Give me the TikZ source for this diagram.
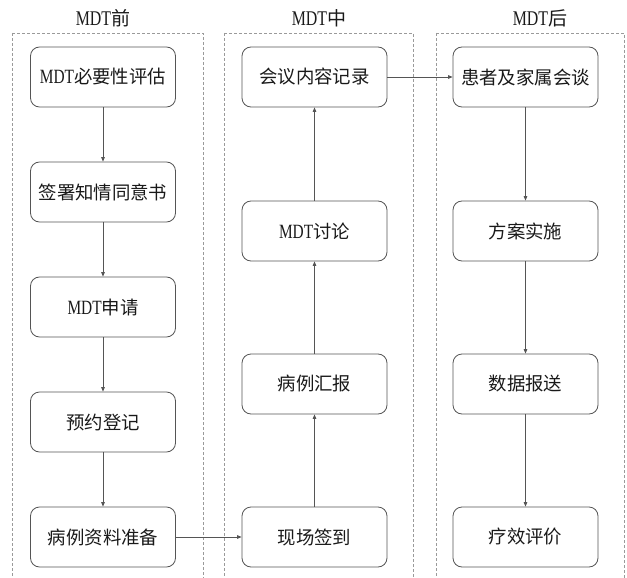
\documentclass[tikz,border=0pt]{standalone}
\usepackage{fontspec}
\setmainfont{Liberation Serif}
\newfontfamily\cjk{Noto Sans CJK SC}
\newfontfamily\lat[FakeStretch=0.76,Scale=1.1]{Liberation Serif}
\newcommand{\mdtx}{{\lat MDT}}
\usetikzlibrary{arrows.meta}
\definecolor{linec}{HTML}{555555}
\definecolor{dashc}{HTML}{9A9A9A}
\begin{document}
\begin{tikzpicture}[x=1pt,y=-1pt,
  box/.style={draw=linec, line width=0.8pt, rounded corners=9pt, minimum width=145pt, minimum height=60pt, inner sep=0pt, font=\fontsize{18.4}{22}\selectfont\cjk, text=black!90},
  col/.style={draw=dashc, line width=0.8pt, dash pattern=on 3pt off 2pt},
  title/.style={font=\fontsize{19}{22}\selectfont\cjk, text=black!90, inner sep=0pt},
  conn/.style={draw=linec, line width=0.7pt, -{Triangle[length=4.5pt,width=3.6pt]}}]
\useasboundingbox (0,0) rectangle (627,578);
% columns
\draw[col] (12,33) -- (12,580) (12,33) -- (203,33) -- (203,580);
\draw[col] (224,33) -- (224,580) (224,33) -- (413,33) -- (413,580);
\draw[col] (436,33) -- (436,580) (436,33) -- (624,33) -- (624,580);
% titles
\node[title] (t1) at (103,18) {\mdtx 前};
\node[title] (t2) at (319,18) {\mdtx 中};
\node[title] (t3) at (540,18) {\mdtx 后};
% column 1
\node[box] (a1) at (103,77) {\mdtx 必要性评估};
\node[box] (a2) at (103,192) {签署知情同意书};
\node[box] (a3) at (103,307) {\mdtx 申请};
\node[box] (a4) at (103,422) {预约登记};
\node[box] (a5) at (103,537) {病例资料准备};
% column 2
\node[box] (b1) at (314.5,77) {会议内容记录};
\node[box] (b2) at (314.5,231) {\mdtx 讨论};
\node[box] (b3) at (314.5,384) {病例汇报};
\node[box] (b4) at (314.5,537) {现场签到};
% column 3
\node[box] (c1) at (525.5,77) {患者及家属会谈};
\node[box] (c2) at (525.5,231) {方案实施};
\node[box] (c3) at (525.5,384) {数据报送};
\node[box] (c4) at (525.5,537) {疗效评价};
% connectors
\draw[conn] (a1) -- (a2);
\draw[conn] (a2) -- (a3);
\draw[conn] (a3) -- (a4);
\draw[conn] (a4) -- (a5);
\draw[conn] (a5) -- (b4);
\draw[conn] (b4) -- (b3);
\draw[conn] (b3) -- (b2);
\draw[conn] (b2) -- (b1);
\draw[conn] (b1) -- (c1);
\draw[conn] (c1) -- (c2);
\draw[conn] (c2) -- (c3);
\draw[conn] (c3) -- (c4);
\end{tikzpicture}
\end{document}
